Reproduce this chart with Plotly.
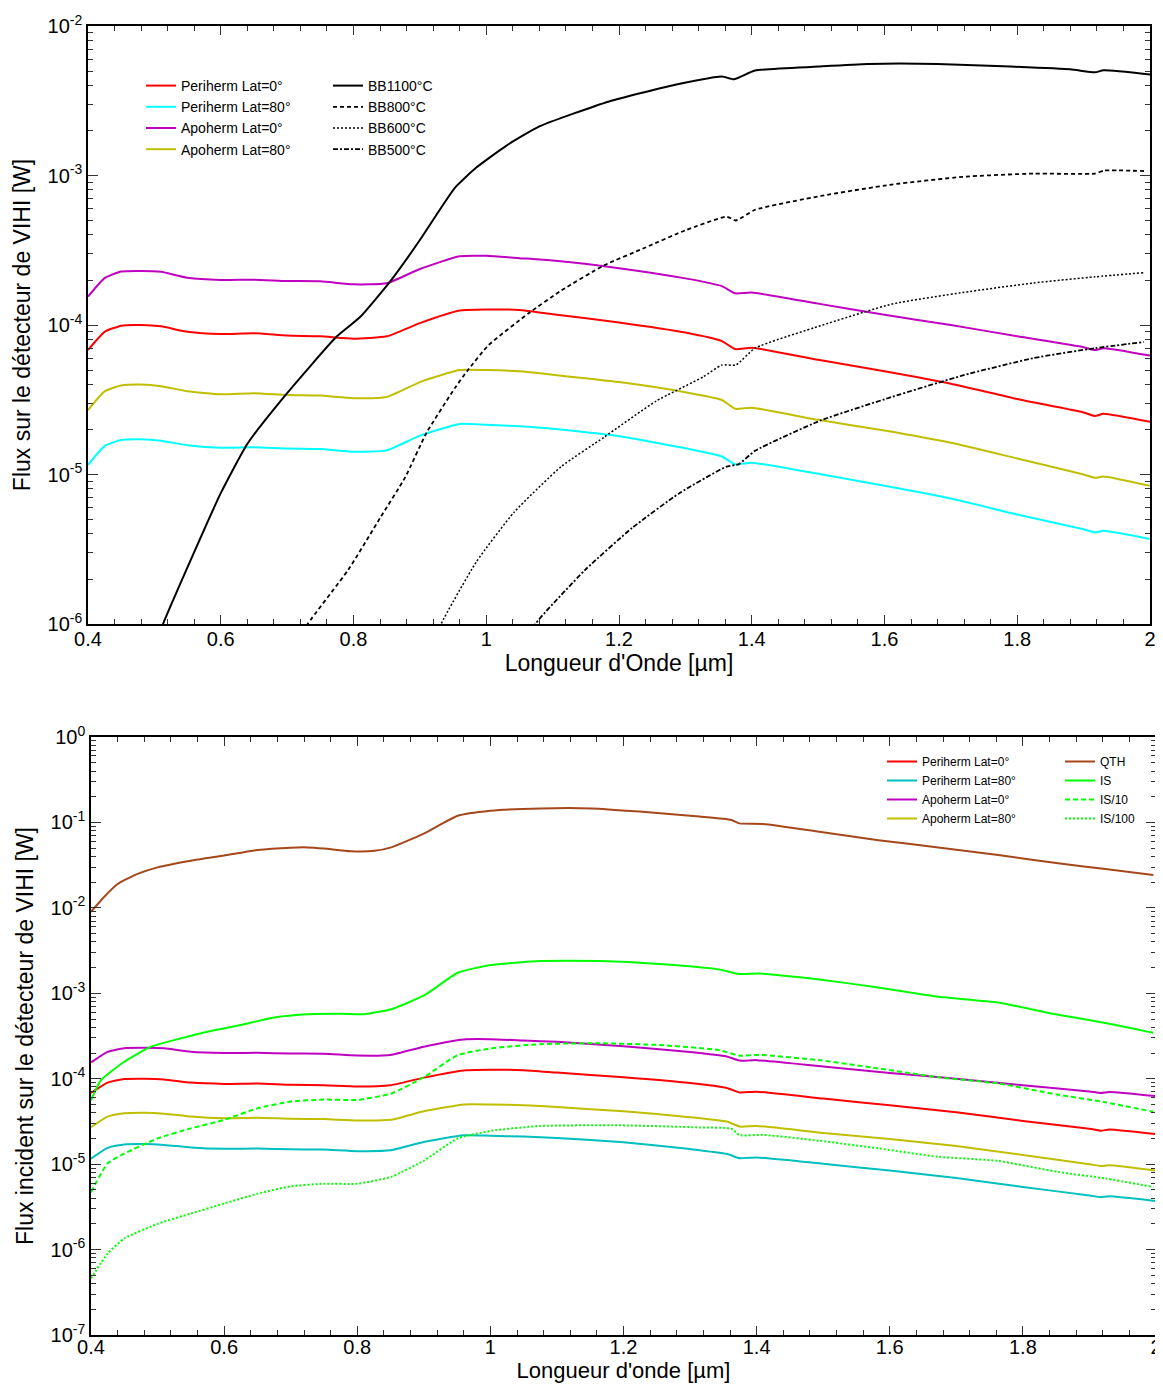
import plotly.graph_objects as go

# ---------------- Mission spectra (shared by both panels) ----------------
wl_mission = [0.40, 0.425, 0.45, 0.48, 0.51, 0.55, 0.60, 0.65, 0.70, 0.75, 0.80, 0.85,
              0.90, 0.96, 1.00, 1.05, 1.10, 1.20, 1.30, 1.355, 1.375, 1.40, 1.50, 1.60,
              1.70, 1.80, 1.90, 1.917, 1.93, 2.00]
peri_lat0 = [6.8e-5, 9.0e-5, 9.9e-5, 1.0e-4, 9.8e-5, 9.0e-5, 8.7e-5, 8.8e-5, 8.5e-5, 8.4e-5,
             8.1e-5, 8.4e-5, 1.03e-4, 1.25e-4, 1.27e-4, 1.26e-4, 1.18e-4, 1.04e-4, 8.9e-5,
             7.8e-5, 6.9e-5, 7.05e-5, 5.85e-5, 4.9e-5, 4.05e-5, 3.2e-5, 2.6e-5, 2.46e-5,
             2.55e-5, 2.25e-5]
peri_lat80 = [1.16e-5, 1.55e-5, 1.7e-5, 1.72e-5, 1.68e-5, 1.57e-5, 1.51e-5, 1.52e-5, 1.49e-5,
              1.48e-5, 1.42e-5, 1.45e-5, 1.82e-5, 2.18e-5, 2.15e-5, 2.1e-5, 2.02e-5, 1.8e-5,
              1.5e-5, 1.32e-5, 1.17e-5, 1.2e-5, 1.01e-5, 8.4e-6, 6.9e-6, 5.4e-6, 4.3e-6,
              4.1e-6, 4.2e-6, 3.7e-6]
apo_lat0 = [1.55e-4, 2.06e-4, 2.28e-4, 2.3e-4, 2.27e-4, 2.07e-4, 2.0e-4, 2.01e-4, 1.97e-4,
            1.96e-4, 1.87e-4, 1.9e-4, 2.37e-4, 2.88e-4, 2.9e-4, 2.8e-4, 2.7e-4, 2.4e-4,
            2.05e-4, 1.82e-4, 1.63e-4, 1.65e-4, 1.39e-4, 1.17e-4, 1.0e-4, 8.4e-5, 7.1e-5,
            6.8e-5, 7.0e-5, 6.25e-5]
apo_lat80 = [2.7e-5, 3.6e-5, 3.94e-5, 4.0e-5, 3.9e-5, 3.6e-5, 3.44e-5, 3.5e-5, 3.4e-5,
             3.37e-5, 3.24e-5, 3.3e-5, 4.15e-5, 5.0e-5, 5.0e-5, 4.9e-5, 4.65e-5, 4.15e-5,
             3.55e-5, 3.15e-5, 2.75e-5, 2.8e-5, 2.32e-5, 1.97e-5, 1.63e-5, 1.28e-5, 1.0e-5,
             9.5e-6, 9.7e-6, 8.4e-6]

# ---------------- Black bodies (top panel) ----------------
wl_bb1100 = [0.50, 0.513, 0.55, 0.60, 0.64, 0.70, 0.775, 0.81, 0.855, 0.90, 0.93, 0.953,
             0.985, 1.03, 1.08, 1.185, 1.29, 1.355, 1.373, 1.405, 1.50, 1.575, 1.68,
             1.79, 1.88, 1.917, 1.93, 2.00]
bb1100 = [7e-7, 1.0e-6, 2.4e-6, 7.5e-6, 1.6e-5, 3.5e-5, 8.4e-5, 1.13e-4, 1.95e-4, 3.7e-4,
          5.9e-4, 8.3e-4, 1.13e-3, 1.58e-3, 2.13e-3, 3.13e-3, 4.09e-3, 4.6e-3, 4.4e-3,
          5.04e-3, 5.35e-3, 5.57e-3, 5.57e-3, 5.35e-3, 5.13e-3, 4.9e-3, 5.05e-3, 4.74e-3]

wl_bb800 = [0.72, 0.731, 0.792, 0.841, 0.878, 0.91, 0.953, 0.971, 1.003, 1.064, 1.113,
            1.177, 1.24, 1.30, 1.362, 1.376, 1.405, 1.504, 1.611, 1.718, 1.824, 1.917,
            1.931, 1.991]
bb800 = [8e-7, 1.0e-6, 2.3e-6, 5.2e-6, 9.6e-6, 1.9e-5, 3.8e-5, 4.9e-5, 7.3e-5, 1.2e-4,
         1.7e-4, 2.5e-4, 3.3e-4, 4.3e-4, 5.3e-4, 5.0e-4, 5.9e-4, 7.3e-4, 8.7e-4, 9.8e-4,
         1.03e-3, 1.03e-3, 1.08e-3, 1.07e-3]

wl_bb600 = [0.925, 0.932, 0.985, 1.042, 1.113, 1.177, 1.256, 1.327, 1.355, 1.376, 1.405,
            1.504, 1.611, 1.718, 1.824, 1.917, 1.991]
bb600 = [8e-7, 1.0e-6, 2.6e-6, 5.6e-6, 1.13e-5, 1.77e-5, 3.1e-5, 4.5e-5, 5.4e-5, 5.4e-5,
         7.0e-5, 9.9e-5, 1.38e-4, 1.65e-4, 1.91e-4, 2.1e-4, 2.24e-4]

wl_bb500 = [1.065, 1.074, 1.149, 1.220, 1.291, 1.362, 1.38, 1.405, 1.504, 1.611, 1.718,
            1.824, 1.917, 1.991]
bb500 = [8e-7, 1.0e-6, 2.3e-6, 4.4e-6, 7.5e-6, 1.13e-5, 1.17e-5, 1.44e-5, 2.3e-5, 3.3e-5,
         4.6e-5, 6.0e-5, 7.0e-5, 7.7e-5]

# ---------------- Lab sources (bottom panel) ----------------
wl_qth = [0.40, 0.42, 0.44, 0.47, 0.50, 0.55, 0.60, 0.65, 0.70, 0.725, 0.75, 0.79, 0.826,
          0.851, 0.90, 0.95, 1.00, 1.076, 1.152, 1.224, 1.314, 1.362, 1.374, 1.41, 1.494,
          1.583, 1.673, 1.763, 1.853, 1.924, 1.996]
qth = [9.0e-3, 1.35e-2, 1.9e-2, 2.5e-2, 2.98e-2, 3.56e-2, 4.1e-2, 4.75e-2, 5.06e-2, 5.1e-2,
       4.95e-2, 4.6e-2, 4.65e-2, 5.1e-2, 7.4e-2, 0.119, 0.137, 0.146, 0.146, 0.134, 0.117,
       0.107, 0.0975, 0.096, 0.078, 0.062, 0.051, 0.0415, 0.0332, 0.0285, 0.0242]

wl_is = [0.40, 0.415, 0.45, 0.49, 0.525, 0.575, 0.625, 0.675, 0.725, 0.776, 0.811, 0.851,
         0.901, 0.951, 1.001, 1.076, 1.164, 1.254, 1.344, 1.374, 1.404, 1.494, 1.583,
         1.673, 1.763, 1.853, 1.924, 1.996]
is_full = [5.6e-5, 9.6e-5, 1.58e-4, 2.37e-4, 2.83e-4, 3.55e-4, 4.25e-4, 5.2e-4, 5.7e-4,
           5.75e-4, 5.7e-4, 6.5e-4, 9.5e-4, 1.74e-3, 2.14e-3, 2.38e-3, 2.38e-3, 2.2e-3,
           1.9e-3, 1.68e-3, 1.7e-3, 1.45e-3, 1.17e-3, 9.1e-4, 7.8e-4, 5.6e-4, 4.5e-4, 3.45e-4]

wl_is10 = [0.40, 0.425, 0.45, 0.50, 0.55, 0.60, 0.65, 0.70, 0.75, 0.80, 0.851, 0.901, 0.951,
           1.001, 1.075, 1.164, 1.254, 1.344, 1.374, 1.404, 1.494, 1.583, 1.673, 1.763,
           1.853, 1.924, 1.996]
is_10 = [4.7e-6, 1.02e-5, 1.33e-5, 2.0e-5, 2.62e-5, 3.3e-5, 4.5e-5, 5.4e-5, 5.7e-5, 5.65e-5,
         6.7e-5, 1.05e-4, 1.89e-4, 2.26e-4, 2.54e-4, 2.6e-4, 2.48e-4, 2.16e-4, 1.86e-4,
         1.9e-4, 1.65e-4, 1.32e-4, 1.04e-4, 8.8e-5, 6.5e-5, 5.3e-5, 4.1e-5]

wl_is100 = [0.40, 0.425, 0.45, 0.50, 0.55, 0.60, 0.65, 0.70, 0.75, 0.80, 0.851, 0.901, 0.951,
            1.001, 1.075, 1.194, 1.314, 1.362, 1.374, 1.41, 1.494, 1.583, 1.673, 1.763,
            1.853, 1.924, 1.996]
is_100 = [4.6e-7, 9.0e-7, 1.35e-6, 2.0e-6, 2.64e-6, 3.46e-6, 4.5e-6, 5.5e-6, 5.9e-6, 5.9e-6,
          7.1e-6, 1.11e-5, 2.0e-5, 2.45e-5, 2.8e-5, 2.85e-5, 2.69e-5, 2.6e-5, 2.19e-5, 2.2e-5,
          1.88e-5, 1.53e-5, 1.22e-5, 1.09e-5, 8.1e-6, 6.8e-6, 5.4e-6]

mission_names = ["Periherm Lat=0°", "Periherm Lat=80°", "Apoherm Lat=0°", "Apoherm Lat=80°"]
mission_data = [peri_lat0, peri_lat80, apo_lat0, apo_lat80]
top_colors = ["#FF0000", "#00FFFF", "#C000C0", "#BFBF00"]
bot_colors = ["#FF0000", "#00BFBF", "#C000C0", "#BFBF00"]

FONT = "Liberation Sans, Arial, sans-serif"
# page has an 8px body margin: figure is sized/offset to fill the 1163x1392 window
OFF = 8
W, H = 1163 - OFF, 1392 - 2 * OFF


def px(xp):  # page x (px) -> paper fraction
    return (xp - OFF) / W


def py(yp):  # page y (px from top) -> paper fraction
    return 1 - (yp - OFF) / H


fig = go.Figure()


def sc(x, y, name, color, width, dash, xa, ya, legend):
    fig.add_trace(go.Scatter(
        x=x, y=y, name=name, mode="lines",
        line=dict(color=color, width=width, dash=dash, shape="spline", smoothing=0.5),
        xaxis=xa, yaxis=ya, legend=legend))


# top panel
for nm, d, c in zip(mission_names, mission_data, top_colors):
    sc(wl_mission, d, nm, c, 2, "solid", "x", "y", "legend")
sc(wl_bb1100, bb1100, "BB1100°C", "#000000", 2, "solid", "x", "y", "legend2")
sc(wl_bb800, bb800, "BB800°C", "#000000", 1.8, "4px,3px", "x", "y", "legend2")
sc(wl_bb600, bb600, "BB600°C", "#000000", 1.5, "2px,2px", "x", "y", "legend2")
sc(wl_bb500, bb500, "BB500°C", "#000000", 1.8, "5px,2px,2px,2px", "x", "y", "legend2")

# bottom panel
for nm, d, c in zip(mission_names, mission_data, bot_colors):
    sc(wl_mission, d, nm, c, 2, "solid", "x2", "y2", "legend3")
sc(wl_qth, qth, "QTH", "#A5471A", 2, "solid", "x2", "y2", "legend4")
sc(wl_is, is_full, "IS", "#00FF00", 2, "solid", "x2", "y2", "legend4")
sc(wl_is10, is_10, "IS/10", "#00FF00", 2, "5px,3px", "x2", "y2", "legend4")
sc(wl_is100, is_100, "IS/100", "#00FF00", 2, "2px,2px", "x2", "y2", "legend4")


def log_ticks(e0, e1):
    vals = [10.0 ** e for e in range(e0, e1 + 1)]
    text = ["10<sup>%d</sup>" % e for e in range(e0, e1 + 1)]
    minor = [k * 10.0 ** e for e in range(e0, e1) for k in range(2, 10)]
    return vals, text, minor


xt = [0.4, 0.6, 0.8, 1.0, 1.2, 1.4, 1.6, 1.8, 2.0]
xtt = ["0.4", "0.6", "0.8", "1", "1.2", "1.4", "1.6", "1.8", "2"]

common_x = dict(range=[0.4, 2.0], tickvals=xt, ticktext=xtt, ticks="inside", ticklen=9,
                tickwidth=1, tickcolor="#333", showline=True, linecolor="black", linewidth=1.5,
                mirror="allticks", showgrid=False, zeroline=False, automargin=False,
                tickfont=dict(family=FONT, size=20, color="black"),
                minor=dict(dtick=0.04, tick0=0.4, ticks="inside", ticklen=5, tickcolor="#333",
                           showgrid=False))


def yaxis_cfg(e0, e1, title, domain, anchor):
    v, t, m = log_ticks(e0, e1)
    return dict(type="log", range=[e0, e1], tickvals=v, ticktext=t, ticks="inside",
                ticklen=10, tickwidth=1, tickcolor="#333", showline=True, linecolor="black",
                linewidth=1.5, mirror="allticks", showgrid=False, zeroline=False,
                automargin=False,
                tickfont=dict(family=FONT, size=20, color="black"),
                minor=dict(tickvals=m, ticks="inside", ticklen=5, tickcolor="#333",
                           showgrid=False),
                title=dict(text=title, font=dict(family=FONT, size=23, color="black"),
                           standoff=10),
                domain=domain, anchor=anchor)


fig.update_layout(
    width=W, height=H, plot_bgcolor="white", paper_bgcolor="white",
    margin=dict(l=0, r=0, t=0, b=0, autoexpand=False),
    font=dict(family=FONT, color="black"),
    xaxis=dict(common_x, domain=[px(88), px(1150)], anchor="y", ticklabelstandoff=-4,
               title=dict(text="Longueur d'Onde [µm]", font=dict(family=FONT, size=23),
                          standoff=2)),
    yaxis=yaxis_cfg(-6, -2, "Flux sur le détecteur de VIHI [W]",
                    [py(624), py(26)], "x"),
    xaxis2=dict(common_x, domain=[px(91), px(1156)], anchor="y2", ticklabelstandoff=-7,
                title=dict(text="Longueur d'onde [µm]", font=dict(family=FONT, size=22),
                           standoff=2)),
    yaxis2=yaxis_cfg(-7, 0, "Flux incident sur le détecteur de VIHI [W]",
                     [py(1335), py(737)], "x2"),
    legend=dict(x=px(141), y=py(70), xanchor="left", yanchor="top",
                bgcolor="rgba(0,0,0,0)", font=dict(family=FONT, size=14)),
    legend2=dict(x=px(328), y=py(70), xanchor="left", yanchor="top",
                 bgcolor="rgba(0,0,0,0)", font=dict(family=FONT, size=14)),
    legend3=dict(x=px(882), y=py(747), xanchor="left", yanchor="top",
                 bgcolor="rgba(0,0,0,0)", font=dict(family=FONT, size=12)),
    legend4=dict(x=px(1060), y=py(747), xanchor="left", yanchor="top",
                 bgcolor="rgba(0,0,0,0)", font=dict(family=FONT, size=12)),
)

fig.write_html("out.html")
